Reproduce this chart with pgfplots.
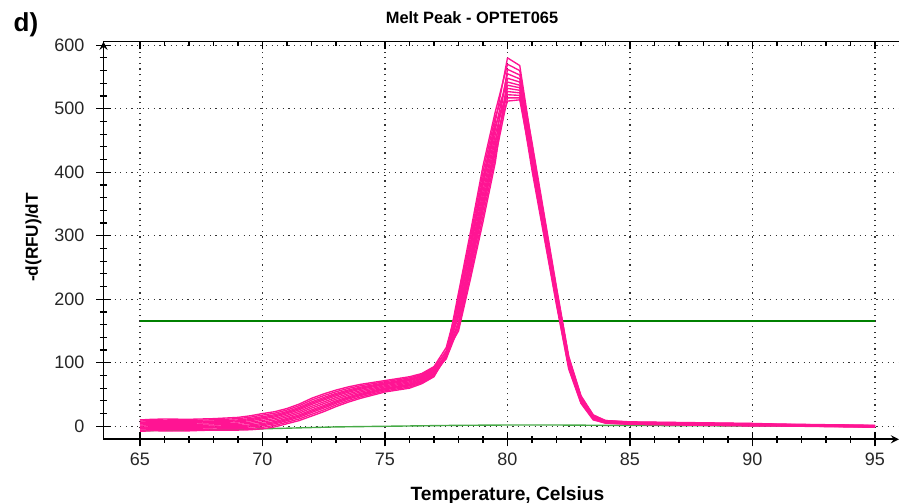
\documentclass[border=0pt]{standalone}
\usepackage{pgfplots}
\pgfplotsset{compat=1.18}
\usepackage{pgfplotstable}
\usepackage{fontspec}
\setmainfont{Liberation Sans}

\definecolor{meltpink}{RGB}{255,20,147}
\definecolor{thrgreen}{RGB}{0,128,0}
\definecolor{basegreen}{RGB}{70,170,70}

% -d(RFU)/dT for the twelve wells, sampled against temperature
\pgfplotstableread{
T    c1    c2    c3    c4    c5    c6    c7    c8    c9    c10   c11   c12
65   10    -8    6.4   -4.4  8.2   -1.7  3.7   -6.2  5.1   -3.1  1.9   0.1
65.5 11    -7    7.4   -3.4  9.2   -0.7  4.7   -5.2  6.1   -2.1  2.9   1.1
66   11.4  -7.3  7.1   -3.1  9.5   -0.9  4.9   -5.5  5.8   -1.8  3.2   0.8
66.5 11.2  -7.5  7.5   -3.5  9.0   -0.5  4.5   -5.3  6.3   -2.3  2.7   1.3
67   11    -7.2  7.6   -3.2  9.3   -0.6  4.8   -5    6     -2    3     1.2
67.5 11.5  -6.5  7.9   -2.9  9.7   -0.2  5.2   -4.7  6.6   -1.6  3.4   1.6
68   12    -6    8.4   -2.4  10.2  0.3   5.7   -4.2  7.1   -1.1  3.9   2.1
68.5 13    -6    9.2   -2.2  11.1  0.7   6.4   -4.1  7.8   -0.8  4.5   2.6
69   14    -6    10    -2    12    1     7     -4    8.5   -0.5  5     3
69.5 16.5  -5.5  12.1  -1.1  14.3  2.2   8.8   -3.3  10.5  0.6   6.6   4.4
70   20    -4    15.2  0.8   17.6  4.4   11.6  -1.6  13.4  2.6   9.2   6.8
70.5 23    -1    18.2  3.8   20.6  7.4   14.6  1.4   16.4  5.6   12.2  9.8
71   28    4     23.2  8.8   25.6  12.4  19.6  6.4   21.4  10.6  17.2  14.8
71.5 35    9     29.8  14.2  32.4  18.1  25.9  11.6  27.9  16.2  23.3  20.7
72   44    16    38.4  21.6  41.2  25.8  34.2  18.8  36.3  23.7  31.4  28.6
72.5 51    23    45.4  28.6  48.2  32.8  41.2  25.8  43.3  30.7  38.4  35.6
73   57    31    51.8  36.2  54.4  40.1  47.9  33.6  49.9  38.2  45.3  42.7
73.5 62    38    57.2  42.8  59.6  46.4  53.6  40.4  55.4  44.6  51.2  48.8
74   66    44    61.6  48.4  63.8  51.7  58.3  46.2  60    50    56.1  53.9
74.5 69    49    65    53    67    56    62    51    63.5  54.5  60    58
75   72    54    68.4  57.6  70.2  60.3  65.7  55.8  67.1  59    63.9  62.1
75.5 75    57    71.4  60.6  73.2  63.3  68.7  58.8  70.1  62    66.9  65.1
76   78    60    74.4  63.6  76.2  66.3  71.7  61.8  73.1  65    69.9  68.1
76.5 83    67    79.8  70.2  81.4  72.6  77.4  68.6  78.6  71.4  75.8  74.2
77   94    78    90.8  81.2  92.4  83.6  88.4  79.6  89.6  82.4  86.8  85.2
77.5 124   112   119.2 108.8 116.6 114.4 110.6 108.4 112.4 112.6 106.2 110.8
78   196   210   172   186   150   203   160   179   165   191   155   176
78.5 292   308   260   280   234   300   248   272   254   286   240   266
79   392   410   354   379   322   401   340   370   347   385   331   362
79.5 479   495   443   467   415   487   431   459   437   473   423   451
80   580   570   562   555   548   542   537   532   527   522   517   512
80.5 568   560   553   547   542   537   533   529   525   521   517   514
81   443   432   447   415   438   423   407   435   418   403   427   412
81.5 329   320   333   307   326   313   301   323   310   297   317   304
82   216   209   219   199   213   204   194   211   201   191   206   197
82.5 108   103   110   96    106   99    92    105   97    90    101   94
83   47    44    48    39    46    41    37    45    40    36    43    38
83.5 17    15    18    12    16    14    11    16    13    10    14    12
84   9     8     9     6     8     7     5     8     6     5     7     6
85   6.6   5.6   7     4.1   6.2   4.8   3.4   5.9   4.4   3     5.2   3.8
86   6.1   5.1   6.5   3.6   5.7   4.3   2.9   5.4   3.9   2.5   4.7   3.3
87   5.6   4.6   6     3.1   5.2   3.8   2.4   4.9   3.4   2     4.2   2.8
88   5.1   4.1   5.5   2.6   4.7   3.3   1.9   4.4   2.9   1.5   3.7   2.3
89   4.6   3.6   5     2.1   4.2   2.8   1.4   3.9   2.4   1     3.2   1.8
90   4.1   3.1   4.5   1.6   3.7   2.3   0.9   3.4   1.9   0.5   2.7   1.3
91   3.2   2.5   3.5   1.3   2.9   1.8   0.8   2.7   1.5   0.5   2.2   1.1
92   2.7   2     3     0.8   2.4   1.3   0.3   2.2   1     0     1.7   0.6
93   2.2   1.5   2.5   0.3   1.9   0.8   -0.2  1.7   0.5   -0.5  1.2   0.1
94   1.7   1     2     -0.2  1.4   0.3   -0.7  1.2   0     -1    0.7   -0.4
95   1.2   0.5   1.5   -0.7  0.9   -0.2  -1.2  0.7   -0.5  -1.5  0.2   -0.9
}\meltdata

\begin{document}
\begin{tikzpicture}
\pgfplotsset{
  meltframe/.style={
    at={(0,0)}, anchor=south west,
    scale only axis, width=397.75pt, height=198.8pt,
    xmin=63.51, xmax=95.98, ymin=-20.5, ymax=605.5,
    xtick={65,70,...,95}, minor x tick num=4,
    tick style={black, line width=0.6pt},
    axis line style={-, black, line width=0.8pt},
    every outer x axis line/.append style={-},
    every outer y axis line/.append style={-},
    every inner x axis line/.append style={-},
    every inner y axis line/.append style={-},
  }
}
\begin{axis}[
  meltframe, name=ax,
  axis x line=bottom, axis y line=left,
  ytick={0,100,...,600}, minor y tick num=4,
  tick align=center, major tick length=7pt, minor tick length=3.5pt,
  grid=major,
  major grid style={black!80, line width=0.6pt, dash pattern=on 0.6pt off 2.2pt},
  /pgf/number format/assume math mode=true,
  ticklabel style={font=\fontsize{9}{10}\selectfont, text=black!85},
  yticklabel style={xshift=-2.5pt},
]
% background curve of the blank well
\addplot[basegreen, line width=0.7pt] coordinates {
  (65,-7) (66,-6.5) (67,-6) (68,-5.5) (69,-5) (70,-4) (71,-3) (72,-2)
  (73,-1) (74,-0.5) (75,0) (76,0.5) (77,1) (78,1.5) (80,2) (82,2)
  (84,1.5) (86,1.2) (90,0.5) (95,0)};
% peak threshold
\addplot[thrgreen, line width=1pt] coordinates {(65,165) (95,165)};
\pgfplotsinvokeforeach{1,...,12}{
  \addplot[meltpink, line width=0.68pt, line join=round] table[x=T, y=c#1] {\meltdata};
}
\end{axis}
% top frame line with inward ticks
\begin{axis}[
  meltframe,
  axis x line=top, axis y line=none,
  x axis line style={-},
  tick align=inside, major tick length=3.5pt, minor tick length=2pt,
  xticklabels={}, ytick=\empty,
]
\addplot[draw=none] coordinates {(65,0)};
\end{axis}
\node[anchor=base, inner sep=0pt, font=\bfseries\fontsize{8.2}{9}\selectfont]
  at ([shift={(184.25pt,207.65pt)}]ax.south west) {Melt Peak - OPTET065};
\node[anchor=base west, inner sep=0pt, font=\bfseries\fontsize{13}{14}\selectfont]
  at ([shift={(-45.1pt,203.8pt)}]ax.south west) {d)};
\node[rotate=90, inner sep=0pt, font=\bfseries\fontsize{8.6}{9}\selectfont]
  at ([shift={(-35pt,100.9pt)}]ax.south west) {-d(RFU)/dT};
\node[anchor=base, inner sep=0pt, font=\bfseries\fontsize{9.6}{10}\selectfont]
  at ([shift={(202pt,-30.35pt)}]ax.south west) {Temperature, Celsius};
\pgfresetboundingbox
\path ([shift={(-51.75pt,-31.85pt)}]ax.south west) rectangle ([shift={(0pt,20.85pt)}]ax.north east);
\end{tikzpicture}
\end{document}
